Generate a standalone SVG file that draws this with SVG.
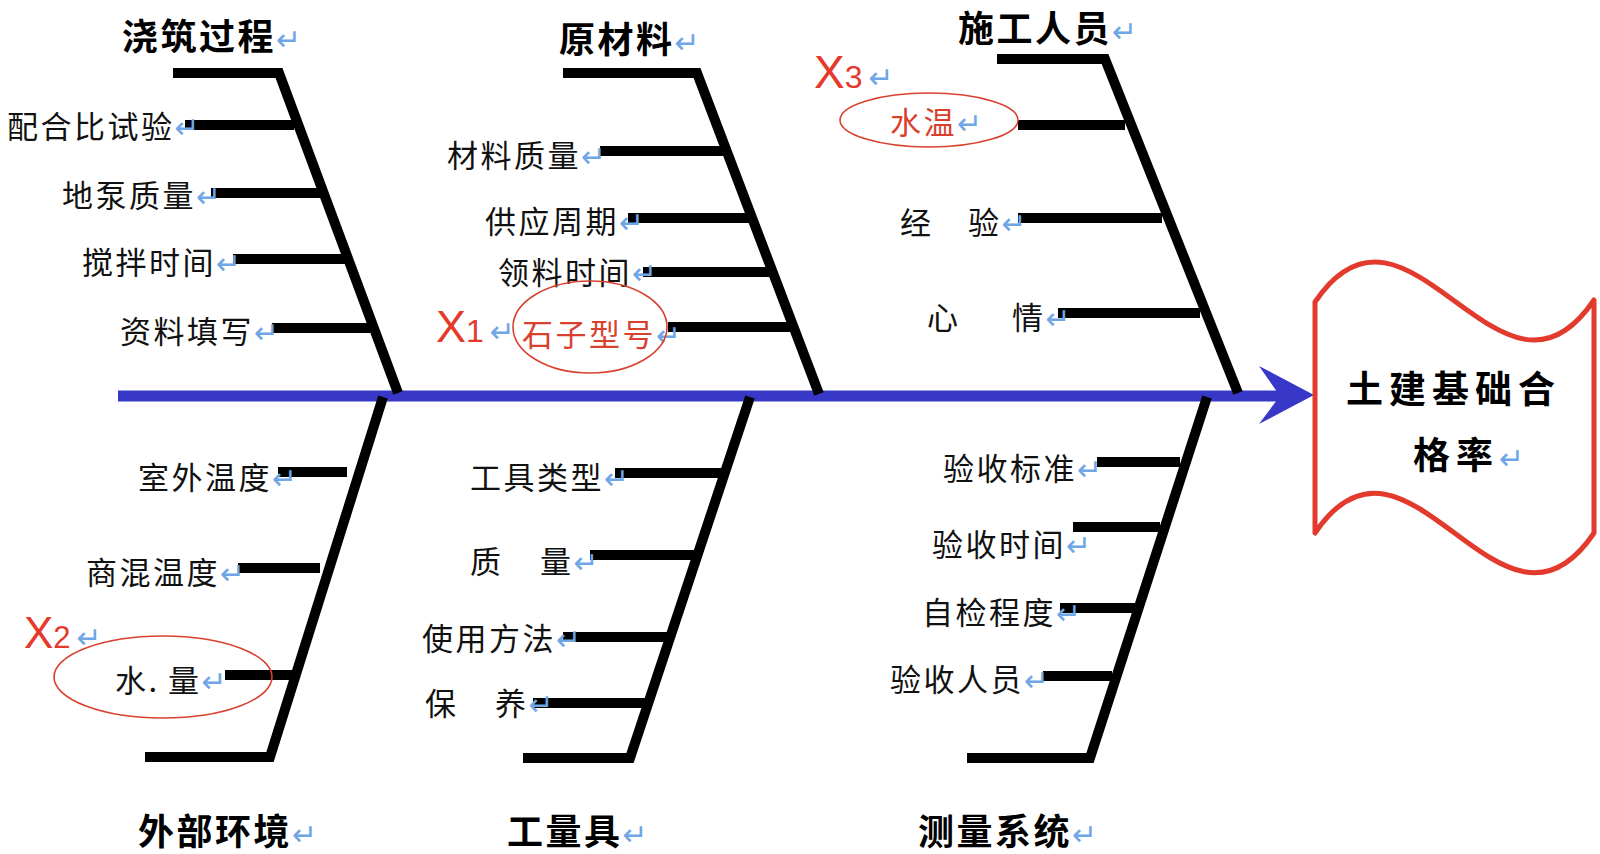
<svg xmlns="http://www.w3.org/2000/svg" width="1600" height="854" viewBox="0 0 1600 854">
<style>
.bone{stroke:#000;stroke-width:10;fill:none;stroke-linecap:butt}
.br{stroke:#000;stroke-width:10;fill:none}
.lbl{font-family:"Noto Sans CJK SC","Noto Sans",sans-serif;font-size:31px;letter-spacing:2.5px;fill:#111}
.ttl{font-family:"Noto Sans CJK SC","Noto Sans",sans-serif;font-size:36px;letter-spacing:2.5px;font-weight:bold;fill:#000}
.red{fill:#d9412f}
.ret{font-family:"DejaVu Sans",sans-serif;font-size:30px;font-weight:normal;fill:#6ea6e6;letter-spacing:0}
.ell{fill:none;stroke:#d9412f;stroke-width:1.6}
.xm{font-family:"Liberation Sans",Arial,sans-serif;fill:#e5392b}
.box{fill:#fff;stroke:#e23a2c;stroke-width:5;stroke-linejoin:round}
.eff{font-family:"Noto Sans CJK SC","Noto Sans",sans-serif;font-size:37px;letter-spacing:6px;font-weight:bold;fill:#000}
</style>

<g id="connectors">
  <line x1="118" y1="396" x2="1284" y2="396" stroke="#3838c8" stroke-width="11"/>
  <polygon points="1314,395 1259,366 1280,396 1259,424" fill="#3838c8"/>
</g>

<g id="pouring">
  <text class="ttl" x="122" y="50">浇筑过程<tspan class="ret">↵</tspan></text>
  <path class="bone" d="M173,73 H279 L398,393"/>
  <line class="br" x1="185" y1="125" x2="294" y2="125"/>
  <line class="br" x1="211" y1="193" x2="320" y2="193"/>
  <line class="br" x1="233" y1="259" x2="345" y2="259"/>
  <line class="br" x1="272" y1="328" x2="370" y2="328"/>
  <text class="lbl" x="7" y="138">配合比试验<tspan class="ret">↵</tspan></text>
  <text class="lbl" x="62" y="207">地泵质量<tspan class="ret">↵</tspan></text>
  <text class="lbl" x="82" y="274">搅拌时间<tspan class="ret">↵</tspan></text>
  <text class="lbl" x="120" y="343">资料填写<tspan class="ret">↵</tspan></text>
</g>

<g id="materials">
  <text class="ttl" x="559" y="53">原材料<tspan class="ret">↵</tspan></text>
  <path class="bone" d="M563,73 H697 L819,394"/>
  <line class="br" x1="600" y1="151" x2="724" y2="151"/>
  <line class="br" x1="628" y1="218" x2="749" y2="218"/>
  <line class="br" x1="643" y1="272" x2="769" y2="272"/>
  <line class="br" x1="668" y1="327" x2="790" y2="327"/>
  <text class="lbl" x="447" y="167">材料质量<tspan class="ret">↵</tspan></text>
  <text class="lbl" x="485" y="233">供应周期<tspan class="ret">↵</tspan></text>
  <text class="lbl" x="498" y="284">领料时间<tspan class="ret">↵</tspan></text>
  <text class="lbl red" x="522" y="346">石子型号<tspan class="ret">↵</tspan></text>
  <ellipse class="ell" cx="590" cy="327" rx="77" ry="46"/>
  <text class="xm" x="436" y="342"><tspan font-size="45">X</tspan><tspan font-size="32">1</tspan><tspan class="ret" dx="6">↵</tspan></text>
</g>

<g id="workers">
  <text class="ttl" x="958" y="42">施工人员<tspan class="ret">↵</tspan></text>
  <path class="bone" d="M997,59 H1105 L1238,393"/>
  <line class="br" x1="1018" y1="125" x2="1125" y2="125"/>
  <line class="br" x1="1018" y1="218" x2="1162" y2="218"/>
  <line class="br" x1="1058" y1="313" x2="1200" y2="313"/>
  <text class="lbl red" x="890" y="134">水温<tspan class="ret">↵</tspan></text>
  <ellipse class="ell" cx="929" cy="120" rx="89" ry="27"/>
  <text class="xm" x="814" y="88"><tspan font-size="46">X</tspan><tspan font-size="32">3</tspan><tspan class="ret" dx="6">↵</tspan></text>
  <text class="lbl" x="900" y="234">经<tspan x="968">验</tspan><tspan class="ret">↵</tspan></text>
  <text class="lbl" x="927" y="329">心<tspan x="1012">情</tspan><tspan class="ret">↵</tspan></text>
</g>

<g id="environment">
  <path class="bone" d="M383,397 L270,757 H145"/>
  <line class="br" x1="278" y1="472" x2="347" y2="472"/>
  <line class="br" x1="238" y1="568" x2="320" y2="568"/>
  <line class="br" x1="225" y1="675" x2="292" y2="675"/>
  <text class="lbl" x="138" y="489">室外温度<tspan class="ret">↵</tspan></text>
  <text class="lbl" x="86" y="584">商混温度<tspan class="ret">↵</tspan></text>
  <text class="lbl" x="115" y="692">水.<tspan x="168">量</tspan><tspan class="ret">↵</tspan></text>
  <ellipse class="ell" cx="163" cy="677" rx="109" ry="41"/>
  <text class="xm" x="24" y="648"><tspan font-size="44">X</tspan><tspan font-size="31">2</tspan><tspan class="ret" dx="6">↵</tspan></text>
  <text class="ttl" x="138" y="845">外部环境<tspan class="ret">↵</tspan></text>
</g>

<g id="tools">
  <path class="bone" d="M750,397 L630,758 H523"/>
  <line class="br" x1="615" y1="473" x2="724" y2="473"/>
  <line class="br" x1="590" y1="555" x2="697" y2="555"/>
  <line class="br" x1="563" y1="637" x2="670" y2="637"/>
  <line class="br" x1="533" y1="703" x2="645" y2="703"/>
  <text class="lbl" x="470" y="489">工具类型<tspan class="ret">↵</tspan></text>
  <text class="lbl" x="470" y="573">质<tspan x="540">量</tspan><tspan class="ret">↵</tspan></text>
  <text class="lbl" x="422" y="650">使用方法<tspan class="ret">↵</tspan></text>
  <text class="lbl" x="425" y="715">保<tspan x="495">养</tspan><tspan class="ret">↵</tspan></text>
  <text class="ttl" x="507" y="845">工量具<tspan class="ret">↵</tspan></text>
</g>

<g id="measurement">
  <path class="bone" d="M1207,397 L1090,758 H967"/>
  <line class="br" x1="1097" y1="462" x2="1180" y2="462"/>
  <line class="br" x1="1073" y1="527" x2="1160" y2="527"/>
  <line class="br" x1="1060" y1="608" x2="1135" y2="608"/>
  <line class="br" x1="1043" y1="676" x2="1112" y2="676"/>
  <text class="lbl" x="943" y="480">验收标准<tspan class="ret">↵</tspan></text>
  <text class="lbl" x="932" y="556">验收时间<tspan class="ret">↵</tspan></text>
  <text class="lbl" x="922" y="624">自检程度<tspan class="ret">↵</tspan></text>
  <text class="lbl" x="890" y="691">验收人员<tspan class="ret">↵</tspan></text>
  <text class="ttl" x="918" y="845">测量系统<tspan class="ret">↵</tspan></text>
</g>

<g id="effect">
  <path class="box" d="M1315,302 C1408,164 1501,438 1594,300 V533 C1501,671 1408,395 1315,533 Z"/>
  <text class="eff" x="1346" y="403">土建基础合</text>
  <text class="eff" x="1413" y="469">格率<tspan class="ret">↵</tspan></text>
</g>
</svg>
